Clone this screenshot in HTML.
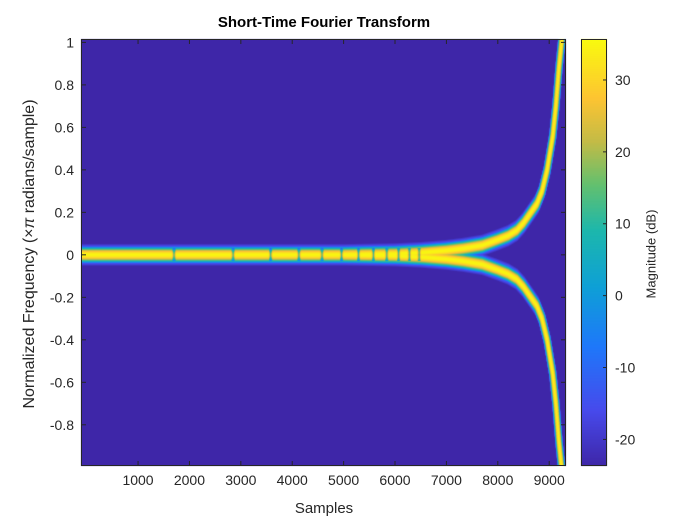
<!DOCTYPE html>
<html><head><meta charset="utf-8"><style>
body{margin:0;background:#fff;width:700px;height:525px;overflow:hidden;font-family:"Liberation Sans",sans-serif}
#wrap{position:relative;width:700px;height:525px}
.t{position:absolute;font-size:14px;color:#262626;white-space:nowrap}
</style></head><body>
<div id="wrap">
<div class="t" style="left:0;width:648px;text-align:center;top:14px;font-weight:bold;font-size:15px;color:#000">Short-Time Fourier Transform</div>
<canvas id="cv" width="700" height="525" style="position:absolute;left:0;top:0"></canvas>
<svg id="ax" width="700" height="525" style="position:absolute;left:0;top:0"></svg>
<div class="t" style="left:0;width:648px;text-align:center;top:500px;font-size:15px">Samples</div>
<div class="t" style="left:30px;top:254px;font-size:16px;transform:translate(-50%,-50%) rotate(-90deg)">Normalized Frequency (×<i>π</i> radians/sample)</div>
<div class="t" style="left:651px;top:254px;font-size:13px;transform:translate(-50%,-50%) rotate(-90deg)">Magnitude (dB)</div>
</div>
<script>
// data
const ridgeT=[-300,1000,3000,5000,6000,6500,7000,7330,7700,7990,8200,8370,8500,8630,8760,8860,8960,9070,9130,9190,9240,9300,9500];
const ridgeF=[0,0,0,0,0.004,0.01,0.02,0.03,0.045,0.07,0.09,0.115,0.15,0.195,0.24,0.30,0.40,0.56,0.70,0.88,1.0,1.15,1.6];
const haloW=[0.015,0.015,0.015,0.015,0.015,0.015,0.015,0.015,0.015,0.014,0.014,0.014,0.014,0.014,0.014,0.014,0.014,0.014,0.014,0.014,0.014,0.014,0.014];
const notches=[1700,2850,3580,4130,4580,4960,5290,5580,5840,6070,6280,6470];
const xTicks=[1000,2000,3000,4000,5000,6000,7000,8000,9000];
const yTicks=[1,0.8,0.6,0.4,0.2,0,-0.2,-0.4,-0.6,-0.8];
const cTicks=[30,20,10,0,-10,-20];
const cMin=-23.7,cMax=35.7,peakDB=35;
const L=81,R=566,T=39,B=466,xMin=-110,xMax=9327,yMin=-0.994,yMax=1.016;
const X=s=>L+(s-xMin)/(xMax-xMin)*(R-L);
const Y=f=>B-(f-yMin)/(yMax-yMin)*(B-T);
const CT=39,CB=466,CL=581,CR=607;
const CY=v=>CB-(v-cMin)/(cMax-cMin)*(CB-CT);
const stops=[[0,[62,38,168]],[0.13,[71,74,236]],[0.28,[30,120,250]],[0.42,[14,160,214]],[0.55,[28,183,173]],[0.66,[100,192,110]],[0.76,[196,187,70]],[0.86,[253,196,50]],[1,[249,251,14]]];
function cmap(v){let u=Math.max(0,Math.min(1,(v-cMin)/(cMax-cMin)));for(let i=1;i<stops.length;i++){if(u<=stops[i][0]){const a=stops[i-1],b=stops[i],k=(u-a[0])/(b[0]-a[0]);return a[1].map((c,j)=>Math.round(c+(b[1][j]-c)*k));}}return stops[stops.length-1][1];}
function interp(xs,ys,x){if(x<=xs[0])return ys[0];for(let i=1;i<xs.length;i++)if(x<=xs[i]){const k=(x-xs[i-1])/(xs[i]-xs[i-1]);return ys[i-1]+(ys[i]-ys[i-1])*k;}return ys[ys.length-1];}
const ctx=document.getElementById('cv').getContext('2d');
const W=R-L,H=B-T;
const img=ctx.createImageData(W,H);
const Wt=80,stp=5;
for(let px=0;px<W;px++){const s=xMin+(px+0.5)/W*(xMax-xMin);
 const cand=[];
 for(let ds=-Wt;ds<=Wt;ds+=stp){const sp=s+ds;cand.push([interp(ridgeT,ridgeF,sp),interp(ridgeT,haloW,sp),7*(ds/28)*(ds/28)]);}
 let nd=1;for(const n of notches){const d=Math.abs(s-n)/40;if(d<1)nd=Math.min(nd,d);}
 const f0=interp(ridgeT,ridgeF,s);
 for(let py=0;py<H;py++){const f=yMax-(py+0.5)/H*(yMax-yMin);
  let v=cMin;
  for(const c of cand){const d=Math.min(Math.abs(f-c[0]),Math.abs(f+c[0]));const z=d/c[1];const m=peakDB-7*z*z-c[2];if(m>v)v=m;
   const z2=d/0.045;const m2=peakDB-38-15*z2*z2-c[2]*0.5;if(m2>v)v=m2;}
  if(f0<0.012&&Math.abs(f)<0.03) v-=(1-nd)*22;
  if(v<cMin)v=cMin;const c=cmap(v);const i=(py*W+px)*4;img.data[i]=c[0];img.data[i+1]=c[1];img.data[i+2]=c[2];img.data[i+3]=255;}}
ctx.putImageData(img,L,T);
const cimg=ctx.createImageData(CR-CL,CB-CT);
for(let py=0;py<CB-CT;py++){const v=cMax-(py+0.5)/(CB-CT)*(cMax-cMin);const c=cmap(v);for(let px=0;px<CR-CL;px++){const i=(py*(CR-CL)+px)*4;cimg.data[i]=c[0];cimg.data[i+1]=c[1];cimg.data[i+2]=c[2];cimg.data[i+3]=255;}}
ctx.putImageData(cimg,CL,CT);
const svg=document.getElementById('ax');const NS='http://www.w3.org/2000/svg';
function el(t,a,p){const e=document.createElementNS(NS,t);for(const k in a)e.setAttribute(k,a[k]);(p||svg).appendChild(e);return e;}
const box=el('rect',{x:L+0.5,y:T+0.5,width:R-L-1,height:B-T-1,fill:'none',stroke:'#262626','stroke-width':1});


const cbox=el('rect',{x:CL+0.5,y:CT+0.5,width:CR-CL-1,height:CB-CT-1,fill:'none',stroke:'#262626','stroke-width':1});


xTicks.forEach(v=>{const x=X(v);el('line',{x1:x,x2:x,y1:B,y2:B-5,stroke:'#262626'});el('line',{x1:x,x2:x,y1:T,y2:T+5,stroke:'#262626'});
 const t=el('text',{x:x,y:B+19,'text-anchor':'middle','font-size':14,fill:'#262626','font-family':'Liberation Sans'});t.textContent=v;
 
 });
yTicks.forEach(v=>{const y=Y(v);el('line',{x1:L,x2:L+5,y1:y,y2:y,stroke:'#262626'});el('line',{x1:R,x2:R-5,y1:y,y2:y,stroke:'#262626'});
 const t=el('text',{x:L-7,y:y+5,'text-anchor':'end','font-size':14,fill:'#262626','font-family':'Liberation Sans'});t.textContent=v;
 
 });
cTicks.forEach(v=>{const y=CY(v);el('line',{x1:CR,x2:CR-4,y1:y,y2:y,stroke:'#262626'});
 const t=el('text',{x:CR+8,y:y+5,'font-size':14,fill:'#262626','font-family':'Liberation Sans'});t.textContent=v;
 
 });
</script>
</body></html>
